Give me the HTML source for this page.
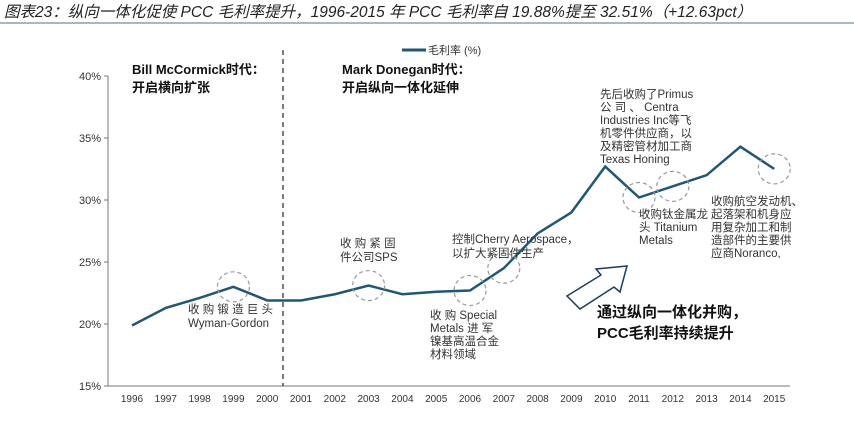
<!DOCTYPE html>
<html><head><meta charset="utf-8"><style>
body{margin:0;background:#fff;width:854px;height:434px;overflow:hidden;font-family:"Liberation Sans","Noto Sans CJK SC",sans-serif;}
svg text{font-family:"Liberation Sans","Noto Sans CJK SC",sans-serif;}
</style></head><body>
<svg width="854" height="434">
<text x="4" y="17" font-size="15.5" font-style="italic" fill="#222">图表23：纵向一体化促使 PCC 毛利率提升，1996-2015 年 PCC 毛利率自 19.88%提至 32.51%（+12.63pct）</text>
<line x1="0" y1="23" x2="854" y2="23" stroke="#8aa0b0" stroke-width="1.5"/>
<g id="axes"></g>
<g id="series"></g>
<line x1="283" y1="50" x2="283" y2="386" stroke="#222" stroke-dasharray="5,4" stroke-width="1.2"/>
<line x1="402" y1="50" x2="426" y2="50" stroke="#1f5777" stroke-width="3"/>
<text x="428" y="54" font-size="11" fill="#333">毛利率 (%)</text>
<g font-size="13" font-weight="bold" fill="#111">
<text x="132" y="74">Bill McCormick时代：</text>
<text x="132" y="92">开启横向扩张</text>
<text x="342" y="74">Mark Donegan时代：</text>
<text x="342" y="92">开启纵向一体化延伸</text>
</g>
<g font-size="11.5" fill="#333">
<text x="188" y="313">收 购 锻 造 巨 头</text><text x="188" y="327">Wyman-Gordon</text>
<text x="340" y="247">收 购 紧 固</text><text x="340" y="261">件公司SPS</text>
<text x="452" y="243">控制Cherry  Aerospace，</text><text x="452" y="257">以扩大紧固件生产</text>
<text x="430" y="319">收 购  Special</text><text x="430" y="332">Metals 进 军</text><text x="430" y="345">镍基高温合金</text><text x="430" y="358">材料领域</text>
<text x="600" y="98">先后收购了Primus</text><text x="600" y="111">公 司 、   Centra</text><text x="600" y="124">Industries  Inc等飞</text><text x="600" y="137">机零件供应商，以</text><text x="600" y="150">及精密管材加工商</text><text x="600" y="163">Texas Honing</text>
<text x="639" y="218">收购钛金属龙</text><text x="639" y="231">头  Titanium</text><text x="639" y="244">Metals</text>
<text x="711" y="205">收购航空发动机、</text><text x="711" y="218">起落架和机身应</text><text x="711" y="231">用复杂加工和制</text><text x="711" y="244">造部件的主要供</text><text x="711" y="257">应商Noranco,</text>
</g>
<polygon points="567,296 601,275 596,269 627,266 620,292 614,287 580,309" fill="#fff" stroke="#1f3c5a" stroke-width="1.5"/>
<g font-size="15" font-weight="bold" fill="#111">
<text x="597" y="317">通过纵向一体化并购，</text>
<text x="597" y="338">PCC毛利率持续提升</text>
</g>
</svg>
<script>
const years=["1996","1997","1998","1999","2000","2001","2002","2003","2004","2005","2006","2007","2008","2009","2010","2011","2012","2013","2014","2015"];
const margins=[19.88,21.3,22.1,23.0,21.9,21.9,22.4,23.1,22.4,22.6,22.7,24.5,27.3,29.0,32.7,30.2,31.1,32.0,34.3,32.51];
const yTicks=[15,20,25,30,35,40];
const circled=["1999","2003","2006","2007","2011","2012","2015"];
const NS="http://www.w3.org/2000/svg";
const x=i=>132+i*33.8;
const y=v=>386-(v-15)/5*62;
function mk(t,a,p){const e=document.createElementNS(NS,t);for(const k in a)e.setAttribute(k,a[k]);p.appendChild(e);return e;}
const ax=document.getElementById('axes'),se=document.getElementById('series');
const bl=mk('line',{x1:108,y1:386,x2:790,y2:386,stroke:'#777'},ax);


const yl=mk('line',{x1:108,y1:y(40),x2:108,y2:386,stroke:'#777'},ax);


yTicks.forEach(t=>{
 mk('line',{x1:104,y1:y(t),x2:108,y2:y(t),stroke:'#777'},ax);
 const tx=mk('text',{x:101,y:y(t)+4,'font-size':11,'text-anchor':'end',fill:'#333'},ax);
 tx.textContent=t+'%';
 
 
});
years.forEach((yr,i)=>{
 const tx=mk('text',{x:x(i),y:402,'font-size':10,'text-anchor':'middle',fill:'#333'},ax);
 tx.textContent=yr;
 
 
});
const pl=mk('polyline',{points:margins.map((v,i)=>x(i)+','+y(v)).join(' '),fill:'none',stroke:'#1f5777','stroke-width':2.5},se);


circled.forEach(yr=>{
 const i=years.indexOf(yr);
 const c=mk('ellipse',{cx:x(i),cy:y(margins[i]),rx:16,ry:15,fill:'none',stroke:'#999','stroke-dasharray':'4,3','stroke-width':1.2},se);
 
 
});
</script>
</body></html>
